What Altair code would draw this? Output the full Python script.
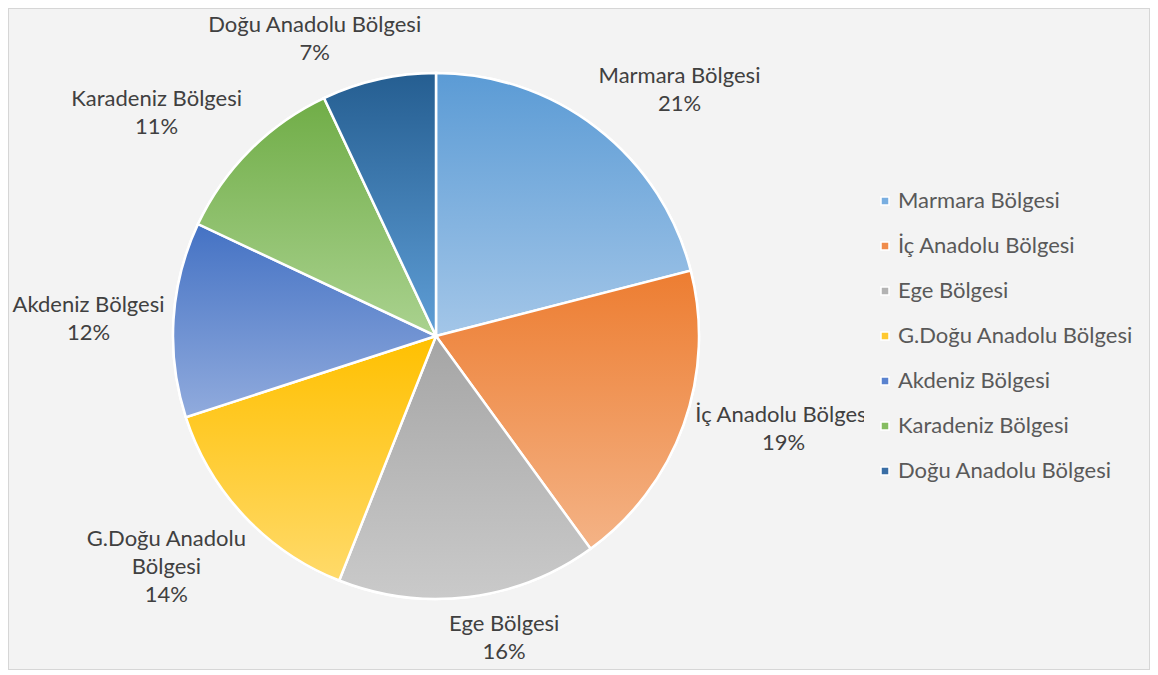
import math
import altair as alt
import pandas as pd

# ---- data ----
regions = [
    "Marmara Bölgesi",
    "İç Anadolu Bölgesi",
    "Ege Bölgesi",
    "G.Doğu Anadolu Bölgesi",
    "Akdeniz Bölgesi",
    "Karadeniz Bölgesi",
    "Doğu Anadolu Bölgesi",
]
shares = [21, 19, 16, 14, 12, 11, 7]
label_names = [
    "Marmara Bölgesi",
    "İç Anadolu Bölgesi",
    "Ege Bölgesi",
    "G.Doğu Anadolu\nBölgesi",
    "Akdeniz Bölgesi",
    "Karadeniz Bölgesi",
    "Doğu Anadolu Bölgesi",
]

# ---- styling ----
top_colors = ["#5b9bd5", "#ed7d31", "#a5a5a5", "#ffc000", "#4472c4", "#70ad47", "#255e91"]
bottom_colors = ["#a3c6e8", "#f4b386", "#cacaca", "#ffda6a", "#91abdd", "#aad28f", "#5f9ed6"]
legend_colors = ["#79aee0", "#f08c4c", "#b3b3b3", "#ffc930", "#5a83cf", "#86bd62", "#3a6ea5"]

FONT = "Lato"
FS = 22
W, H = 1142, 662
CX, CY = 428, 328
R = 263
RX, RY = 270, 276   # anchor distances of labels from the centre
CW = 5.2            # half of an average character width at FS
LH = 28             # label line height
BG = "#f3f3f3"

df = pd.DataFrame({
    "region": regions,
    "share": shares,
    "label_name": label_names,
    "order": list(range(len(regions))),
})

theta_scale = alt.Scale(domain=[0, 100], range=[0, 2 * math.pi])

base = alt.Chart(df).transform_window(
    cum="sum(share)", sort=[alt.SortField("order")], frame=[None, 0]
).transform_calculate(
    start="datum.cum - datum.share",
    mid="datum.cum - datum.share / 2",
    label="datum.label_name + '\\n' + datum.share + '%'",
)

labels_src = base.transform_calculate(
    s="sin(2 * PI * datum.mid / 100)",
    c="cos(2 * PI * datum.mid / 100)",
    lines="split(datum.label, '\\n')",
).transform_calculate(
    nl="length(datum.lines)",
    maxlen="max(length(datum.lines[0]), length(datum.lines) > 1 ? length(datum.lines[1]) : 0, "
           "length(datum.lines) > 2 ? length(datum.lines[2]) : 0)",
    vdir="datum.c > 0.4 ? -1 : (datum.c < -0.4 ? 1 : 0)",
    hf="abs(datum.c) > 0.9 ? 0.6 : 1",
).transform_calculate(
    px=f"{RX} * datum.s + (datum.s >= 0 ? 1 : -1) * datum.hf * datum.maxlen * {CW}",
    py=f"-{RY} * datum.c + datum.vdir * datum.nl * {LH} / 2 - (datum.nl - 1) * {LH} / 2",
).transform_calculate(
    lr="sqrt(datum.px * datum.px + datum.py * datum.py)",
    lt="atan2(datum.px, -datum.py)",
)

pos = dict(x=alt.value(CX), y=alt.value(CY))

legend = alt.Legend(
    title=None,
    orient="none",
    legendX=856,
    legendY=172,
    symbolType="square",
    symbolSize=64,
    symbolStrokeColor="white",
    symbolStrokeWidth=1.5,
    labelFont=FONT,
    labelFontSize=FS,
    labelColor="#595959",
    labelOffset=2,
    rowPadding=23,
    padding=10,
    fillColor=BG,
    labelLimit=400,
)

arc_base = base.mark_arc(radius=R, stroke="white", strokeWidth=2.5).encode(
    theta=alt.Theta("start:Q", scale=theta_scale),
    theta2="cum:Q",
    color=alt.Color(
        "region:N",
        scale=alt.Scale(domain=regions, range=legend_colors),
        sort=regions,
        legend=legend,
    ),
    **pos,
)

layers = [arc_base]
for name, c0, c1 in zip(regions, top_colors, bottom_colors):
    grad = {
        "gradient": "linear",
        "x1": 0, "y1": 0, "x2": 0, "y2": 1,
        "stops": [{"offset": 0, "color": c0}, {"offset": 1, "color": c1}],
    }
    layers.append(
        base.transform_filter(alt.datum.region == name)
        .mark_arc(radius=R, stroke="white", strokeWidth=2.5, fill=grad)
        .encode(
            theta=alt.Theta("start:Q", scale=theta_scale),
            theta2="cum:Q",
            **pos,
        )
    )

layers.append(
    labels_src.mark_text(
        align="center",
        baseline="middle",
        font=FONT,
        fontSize=FS,
        color="#404040",
        lineBreak="\n",
        lineHeight=LH,
    ).encode(
        theta=alt.Theta("lt:Q", scale=None, stack=None),
        radius=alt.Radius("lr:Q", scale=None),
        text="label:N",
        **pos,
    )
)

chart = alt.layer(*layers).properties(
    width=W,
    height=H,
    padding=0,
    autosize=alt.AutoSizeParams(type="none"),
    background=BG,
).configure_view(stroke="#d6d6d6", strokeWidth=2)

chart.save("out.html", embed_options={"renderer": "svg", "actions": False})
